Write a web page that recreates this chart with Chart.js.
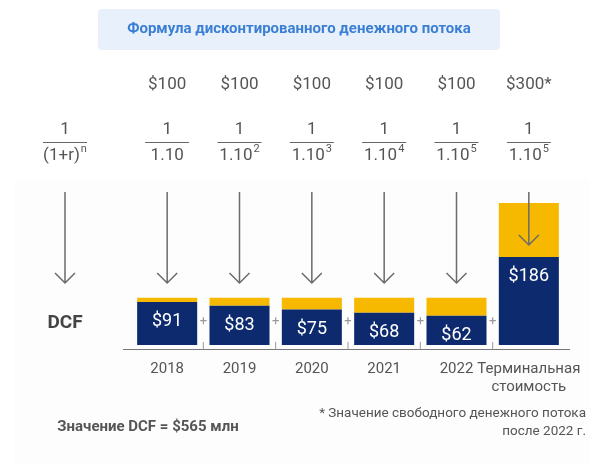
<!DOCTYPE html>
<html><head><meta charset="utf-8">
<script src="https://cdn.jsdelivr.net/npm/chart.js@4"></script>
<style>body{margin:0;background:#fff}#w{position:relative;width:600px;height:465px}canvas{position:absolute;left:0;top:0}</style>
</head><body><div id="w"><canvas id="c" width="600" height="465"></canvas></div>
<script>
const categories = ["2018","2019","2020","2021","2022",["Терминальная","стоимость"]];
const presentValues = [91,83,75,68,62,186];
const cashFlows = [100,100,100,100,100,300];
const cashLabels = ["$100","$100","$100","$100","$100","$300*"];
const exponents = ["","2","3","4","5","5"];
const discountRemainder = cashFlows.map((v,i)=>v-presentValues[i]);
const NAVY="#0d2a6e", GOLD="#f7b900", GRAY="#555";
const FONT="Roboto, 'Liberation Sans', sans-serif";

function frac(ctx,x,num,base,exp){
  ctx.fillStyle=GRAY;ctx.textAlign="center";ctx.textBaseline="middle";
  ctx.font="17px "+FONT;ctx.fillText(num,x,130);
  ctx.strokeStyle="#666";ctx.lineWidth=1;ctx.beginPath();ctx.moveTo(x-22,142.5);ctx.lineTo(x+22,142.5);ctx.stroke();
  const bw=ctx.measureText(base).width; ctx.font="11px "+FONT; const ew=exp?ctx.measureText(exp).width+1:0;
  ctx.font="17px "+FONT; ctx.textAlign="left";
  const sx=x-(bw+ew)/2; ctx.fillText(base,sx,156);
  if(exp){ctx.font="11px "+FONT;ctx.fillText(exp,sx+bw+1,149);}
}
function arrow(ctx,x,y1,y2){
  ctx.strokeStyle="#6b6b6b";ctx.lineWidth=1.5;ctx.beginPath();
  ctx.moveTo(x,y1);ctx.lineTo(x,y2);ctx.moveTo(x-10,y2-10);ctx.lineTo(x,y2);ctx.lineTo(x+10,y2-10);ctx.stroke();
}
const deco={id:"deco",
 beforeDraw(ch){const ctx=ch.ctx;ctx.save();
  ctx.fillStyle="#fdfdfd";ctx.fillRect(15,180,575,285);
  ctx.fillStyle="#e8f1fb";ctx.beginPath();ctx.roundRect(98,9,402,41,4);ctx.fill();
  ctx.fillStyle="#3b7fd4";ctx.font="bold 15px "+FONT;ctx.textAlign="center";ctx.textBaseline="middle";
  ctx.fillText("Формула дисконтированного денежного потока",299,29);
  const xs=ch.scales.x;
  frac(ctx,65,"1","(1+r)","n");
  cashLabels.forEach((t,i)=>{const x=xs.getPixelForValue(i);
    ctx.fillStyle=GRAY;ctx.font="17px "+FONT;ctx.textAlign="center";ctx.textBaseline="middle";ctx.fillText(t,x,85);
    frac(ctx,x,"1","1.10",exponents[i]);});
  ctx.restore();},
 afterDatasetsDraw(ch){const ctx=ch.ctx;ctx.save();const xs=ch.scales.x,ys=ch.scales.y;
  const base=ys.getPixelForValue(0)+4.5;
  ctx.strokeStyle="#777";ctx.lineWidth=1.2;ctx.beginPath();ctx.moveTo(123,base);ctx.lineTo(570,base);ctx.stroke();
  const meta=ch.getDatasetMeta(0);
  presentValues.forEach((v,i)=>{const x=xs.getPixelForValue(i);
    const top=meta.data[i].y;
    ctx.fillStyle="#fff";ctx.font="18px "+FONT;ctx.textAlign="center";ctx.textBaseline="middle";
    ctx.fillText("$"+v,x,top+20);
    const tip=i===5?245:283; arrow(ctx,x,192,tip);
    if(i<5){const m=(x+xs.getPixelForValue(i+1))/2;
      ctx.fillStyle="#999";ctx.font="13px "+FONT;ctx.fillText("+",m,322);
      ctx.strokeStyle="#999";ctx.lineWidth=1;ctx.beginPath();ctx.moveTo(m,342);ctx.lineTo(m,base);ctx.stroke();}
  });
  arrow(ctx,65,192,283);
  ctx.fillStyle="#444";ctx.font="bold 19px "+FONT;ctx.textAlign="center";ctx.fillText("DCF",65,323);
  ctx.font="bold 15px "+FONT;ctx.fillStyle="#555";ctx.fillText("Значение DCF = $565 млн",148,427);
  ctx.font="13.5px "+FONT;ctx.textAlign="right";ctx.fillText("* Значение свободного денежного потока",586,414);
  ctx.fillText("после 2022 г.",586,432);
  ctx.restore();}
};
new Chart(document.getElementById("c"),{type:"bar",
 data:{labels:categories,datasets:[
  {data:presentValues,backgroundColor:NAVY,barPercentage:0.83,categoryPercentage:1},
  {data:discountRemainder,backgroundColor:GOLD,barPercentage:0.83,categoryPercentage:1}]},
 options:{responsive:false,animation:false,events:[],
  layout:{padding:{left:131,right:35,top:203,bottom:62}},
  plugins:{legend:{display:false},tooltip:{enabled:false}},
  scales:{x:{stacked:true,grid:{display:false},border:{display:false},
     ticks:{color:GRAY,font:{size:15,family:FONT},padding:7,maxRotation:0,autoSkip:false}},
   y:{stacked:true,min:0,max:300,display:false}}},
 plugins:[deco]});
</script></body></html>
